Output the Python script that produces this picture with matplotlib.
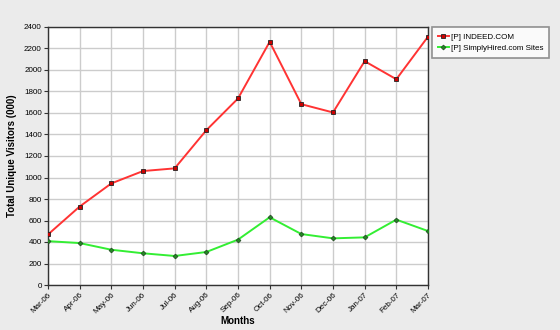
import matplotlib
matplotlib.use("Agg")
import matplotlib.pyplot as plt

months = ["Mar-06", "Apr-06", "May-06", "Jun-06", "Jul-06", "Aug-06", "Sep-06",
          "Oct-06", "Nov-06", "Dec-06", "Jan-07", "Feb-07", "Mar-07"]
indeed = [470, 730, 945, 1060, 1085, 1440, 1735, 2262, 1682, 1605, 2082, 1914, 2310]
simplyhired = [408, 390, 328, 295, 270, 307, 422, 630, 474, 434, 443, 608, 502]
yticks = list(range(0, 2401, 200))

plt.rcParams['font.family'] = ['Liberation Sans', 'DejaVu Sans']

fig = plt.figure(figsize=(5.6, 3.3), dpi=100, facecolor='#ebebeb')
ax = fig.add_axes([48/560, 1-285/330, 380/560, 258/330])
ax.set_facecolor('white')
x = list(range(len(months)))
ax.plot(x, indeed, color='#ff3333', lw=1.4, marker='s', ms=3.5,
        mfc='#cc0000', mec='#222222', mew=0.6, label='[P] INDEED.COM', zorder=3)
ax.plot(x, simplyhired, color='#33ee33', lw=1.4, marker='D', ms=2.5,
        mfc='#228822', mec='#224422', mew=0.5, label='[P] SimplyHired.com Sites', zorder=3)
ax.set_xlim(0, len(months)-1)
ax.set_ylim(0, 2400)
ax.set_xticks(x)
ax.set_xticklabels(months, rotation=45, ha='right', rotation_mode='anchor', fontsize=5.8)
ax.set_yticks(yticks)
ax.set_yticklabels([str(v) for v in yticks], fontsize=5.8)
ax.grid(True, color='#cccccc', lw=1)
ax.set_axisbelow(True)
for s in ax.spines.values():
    s.set_color('#333333')
    s.set_linewidth(1)
ax.tick_params(length=3, width=0.8, pad=1.5, color='#333333')
ax.set_xlabel('Months', fontsize=7, fontweight='bold', labelpad=1)
ax.set_ylabel('Total Unique Visitors (000)', fontsize=7, fontweight='bold', labelpad=5)
leg = fig.legend(loc='upper left', bbox_to_anchor=(432/560, 1-27/330), fontsize=5.8,
                 frameon=True, fancybox=False, shadow=False, handlelength=1.3,
                 borderpad=0.75, labelspacing=0.45, handletextpad=0.3, borderaxespad=0)
leg.get_frame().set_edgecolor('#777777')
leg.get_frame().set_linewidth(1.2)
leg.get_frame().set_facecolor('white')
fig.savefig('out.png', dpi=100, facecolor=fig.get_facecolor())
